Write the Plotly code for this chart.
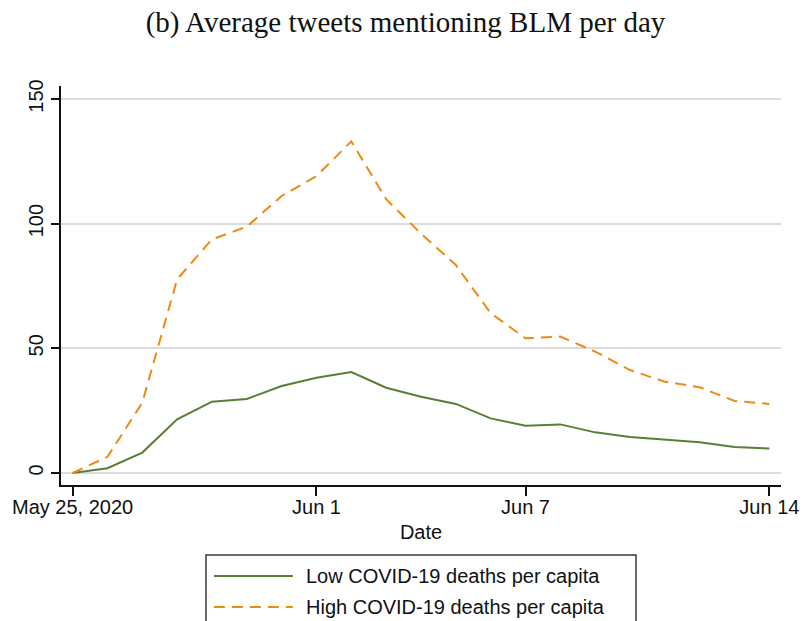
import pandas as pd
import plotly.graph_objects as go

# Daily series, May 25 - Jun 14, 2020
dates = pd.date_range("2020-05-25", "2020-06-14", freq="D")
low_deaths = [0.0, 1.9, 8.2, 21.5, 28.6, 29.7, 34.9, 38.2, 40.5, 34.2, 30.6,
              27.7, 21.9, 19.0, 19.5, 16.3, 14.4, 13.2, 12.3, 10.4, 9.8]
high_deaths = [0.0, 6.5, 28.2, 77.7, 93.7, 98.8, 111.1, 119.1, 133.0, 109.8, 96.0,
               83.4, 64.1, 54.0, 54.7, 48.7, 41.3, 36.6, 34.4, 28.9, 27.7]

tick_dates = ["2020-05-25", "2020-06-01", "2020-06-07", "2020-06-14"]
tick_text = ["May 25, 2020", "Jun 1", "Jun 7", "Jun 14"]
y_ticks = [0, 50, 100, 150]

series_names = ["Low COVID-19 deaths per capita", "High COVID-19 deaths per capita"]
GREEN = "#5a7d38"
ORANGE = "#ee8a14"

W, H = 811, 621
L, R, T, B = 60, 21, 86, 136
SANS = "Liberation Sans, Arial, Helvetica, sans-serif"

fig = go.Figure()
fig.add_trace(go.Scatter(x=dates, y=low_deaths, mode="lines", name=series_names[0],
                         line=dict(color=GREEN, width=2), showlegend=False))
fig.add_trace(go.Scatter(x=dates, y=high_deaths, mode="lines", name=series_names[1],
                         line=dict(color=ORANGE, width=2, dash="11px,7px"),
                         showlegend=False))

# helpers: pixel position -> paper coordinates
pw, ph = W - L - R, H - T - B
def px(x):
    return (x - L) / pw
def py(y):
    return (H - B - y) / ph

# boxed legend below the plot
shapes = [
    dict(type="rect", xref="paper", yref="paper", x0=px(207), x1=px(643),
         y0=py(640), y1=py(555), line=dict(color="#3a3a3a", width=1.5),
         fillcolor="rgba(0,0,0,0)", layer="above"),
    dict(type="line", xref="paper", yref="paper", x0=px(215), x1=px(295),
         y0=py(576), y1=py(576), line=dict(color=GREEN, width=2)),
    dict(type="line", xref="paper", yref="paper", x0=px(215), x1=px(295),
         y0=py(607), y1=py(607), line=dict(color=ORANGE, width=2, dash="11px,7px")),
]
annotations = [
    dict(xref="paper", yref="paper", x=px(306), y=py(576), text=series_names[0],
         showarrow=False, xanchor="left", yanchor="middle",
         font=dict(family=SANS, size=20, color="#111")),
    dict(xref="paper", yref="paper", x=px(306), y=py(607), text=series_names[1],
         showarrow=False, xanchor="left", yanchor="middle",
         font=dict(family=SANS, size=20, color="#111")),
]

fig.update_layout(
    width=W, height=H,
    margin=dict(l=L, r=R, t=T, b=B),
    paper_bgcolor="white", plot_bgcolor="white",
    title=dict(text="(b) Average tweets mentioning BLM per day",
               x=0.5, xref="container", xanchor="center", y=1 - 22 / H, yanchor="middle",
               font=dict(family="Liberation Serif, Times New Roman, serif", size=29,
                         color="#111")),
    xaxis=dict(
        type="date",
        range=["2020-05-24 16:00", "2020-06-14 08:00"],
        tickmode="array", tickvals=tick_dates, ticktext=tick_text,
        ticks="outside", ticklen=9, tickwidth=1.5, tickcolor="#111",
        ticklabelstandoff=-6, ticklabeloverflow="allow",
        showline=True, linecolor="#111", linewidth=1.5,
        showgrid=False, zeroline=False,
        tickfont=dict(family=SANS, size=20, color="#111"),
        title=dict(text="Date", standoff=8, font=dict(family=SANS, size=20, color="#111")),
    ),
    yaxis=dict(
        range=[-4.81, 155.2],
        tickmode="array", tickvals=y_ticks,
        tickangle=-90,
        ticks="outside", ticklen=8, tickwidth=1.5, tickcolor="#111",
        showline=True, linecolor="#111", linewidth=1.5,
        showgrid=True, gridcolor="#dcdcdc", gridwidth=1.5,
        zeroline=False,
        tickfont=dict(family=SANS, size=20, color="#111"),
    ),
    shapes=shapes,
    annotations=annotations,
)

fig.write_html("out.html")
